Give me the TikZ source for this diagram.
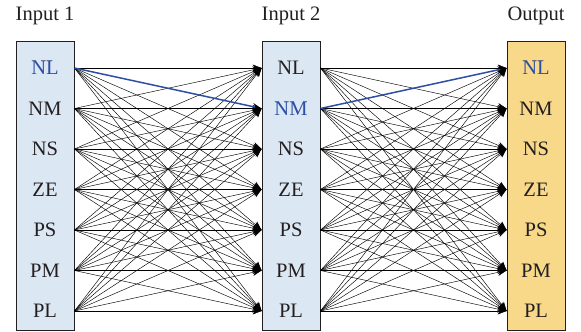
\documentclass[tikz,border=0pt]{standalone}
\usepackage{fontspec}
\setmainfont{Liberation Serif}
\usetikzlibrary{arrows.meta}
\definecolor{inputfill}{HTML}{DCE7F4}
\definecolor{outputfill}{HTML}{F8D889}
\definecolor{pathblue}{HTML}{2D4EA5}
\definecolor{inktext}{HTML}{231F20}
\tikzset{
  varbox/.style={draw=inktext, line width=0.9pt, minimum width=58pt, minimum height=289pt, inner sep=0pt},
  inbox/.style={varbox, fill=inputfill},
  outbox/.style={varbox, fill=outputfill},
  term/.style={font=\fontsize{20.5}{20.5}\selectfont, text=inktext, inner sep=0pt},
  caption/.style={font=\fontsize{20.5}{20.5}\selectfont, text=inktext, inner sep=0pt},
  rule/.style={line width=0.45pt, draw=black, -{Stealth[length=9pt,width=7pt]}},
  picked/.style={line width=1.5pt, draw=pathblue, -{Stealth[length=9pt,width=7pt,black]}}
}
\begin{document}
\begin{tikzpicture}[x=1pt,y=-1pt]
  \useasboundingbox (0,0) rectangle (581,332);
  % column boxes
  \node[inbox]  (b1) at (45,185.5) {};
  \node[inbox]  (b2) at (291,185.5) {};
  \node[outbox] (b3) at (536,185.5) {};
  % column captions
  \node[caption] (c1) at (45,16) {Input 1};
  \node[caption] (c2) at (291,16) {Input 2};
  \node[caption] (c3) at (536,16) {Output};
  % fuzzy terms in each column
  \foreach \t [count=\i] in {NL,NM,NS,ZE,PS,PM,PL} {
    \pgfmathsetmacro\yy{68+40.5*(\i-1)}
    \node[term] (a\i) at (45,\yy) {\t};
    \node[term] (m\i) at (291,\yy) {\t};
    \node[term] (o\i) at (536,\yy) {\t};
  }
  % highlighted terms
  \node[term, text=pathblue, fill=inputfill] at (a1) {NL};
  \node[term, text=pathblue, fill=inputfill] at (m2) {NM};
  \node[term, text=pathblue, fill=outputfill] at (o1) {NL};
  % full connections between neighbouring columns
  \foreach \i in {1,...,7} {
    \foreach \j in {1,...,7} {
      \pgfmathtruncatemacro\skipA{(\i==1)&&(\j==2)}
      \pgfmathtruncatemacro\skipB{(\i==2)&&(\j==1)}
      \ifnum\skipA=0
        \draw[rule] (b1.east |- a\i) -- (b2.west |- m\j);
      \fi
      \ifnum\skipB=0
        \draw[rule] (b2.east |- m\i) -- (b3.west |- o\j);
      \fi
    }
  }
  % active rule path
  \draw[picked] (b1.east |- a1) -- (b2.west |- m2);
  \draw[picked] (b2.east |- m2) -- (b3.west |- o1);
\end{tikzpicture}
\end{document}
